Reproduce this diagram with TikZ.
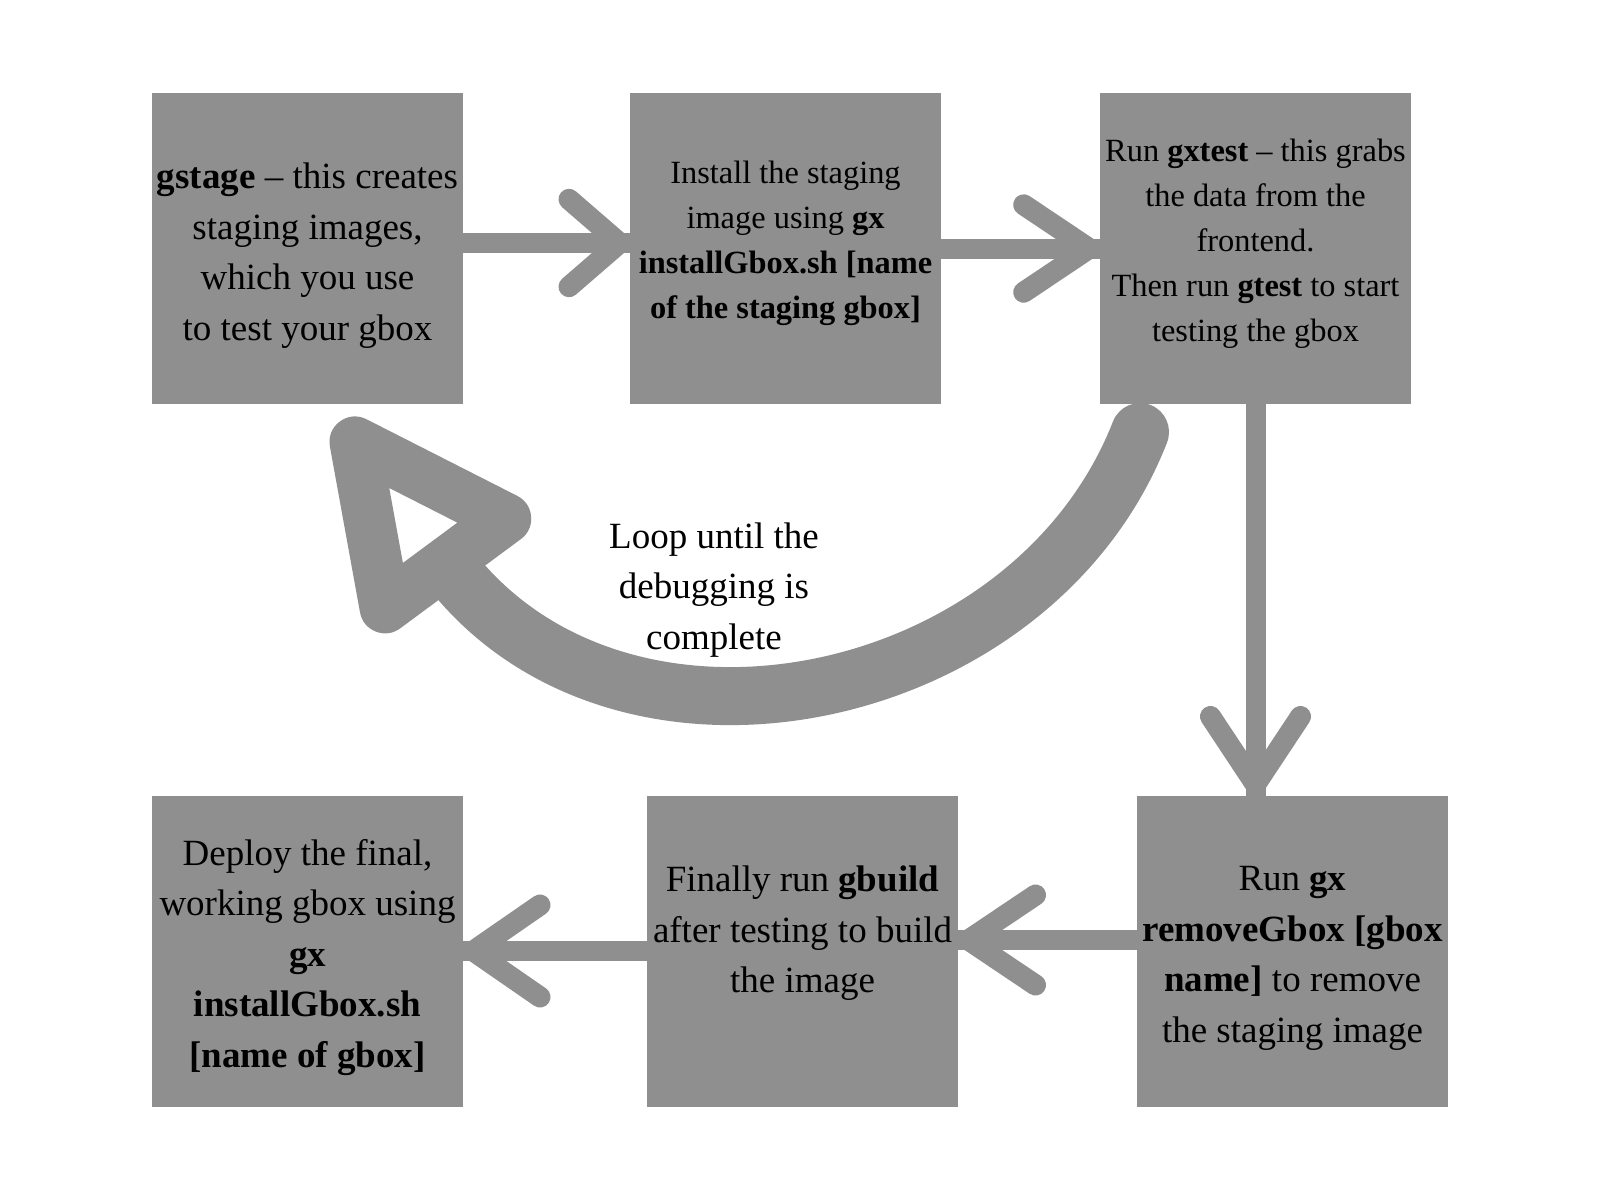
\documentclass[tikz,border=0pt]{standalone}
\usepackage{fontspec}
\setmainfont{Liberation Serif}
\usetikzlibrary{calc}
\definecolor{boxgray}{RGB}{143,143,143}
\begin{document}
\begin{tikzpicture}[x=1pt,y=-1pt,
  box/.style={fill=boxgray, draw=none, minimum width=311pt, minimum height=311pt, inner sep=0pt, outer sep=0pt},
  bigtext/.style={align=center, inner sep=0pt, font=\fontsize{37}{50.5}\selectfont, text=black},
  smalltext/.style={align=center, inner sep=0pt, font=\fontsize{32.4}{45}\selectfont, text=black},
  shaft/.style={draw=boxgray, line width=20pt},
  head/.style={draw=boxgray, line width=21pt, line cap=round, line join=round},
  loopline/.style={draw=boxgray, line width=58pt, line cap=round},
  loophead/.style={draw=boxgray, line width=51pt, line join=round}]
\path[use as bounding box, fill=white] (0,0) rectangle (1600,1200);

% boxes
\node[box] (b1) at (307.5,248.5) {};
\node[box] (b2) at (785.5,248.5) {};
\node[box] (b3) at (1255.5,248.5) {};
\node[box] (b4) at (307.5,951) {};
\node[box] (b5) at (802.5,951) {};
\node[box] (b6) at (1292.5,951) {};

% box texts
\node[bigtext] (l1) at ($(b1)+(0,7)$) {\textbf{gstage} – this creates\\staging images,\\which you use\\to test your gbox};
\node[smalltext] (l2) at ($(b2)+(0,-5)$) {Install the staging\\image using \textbf{gx}\\\textbf{installGbox.sh [name}\\\textbf{of the staging gbox]}};
\node[smalltext] (l3) at ($(b3)+(0,-4.5)$) {Run \textbf{gxtest} – this grabs\\the data from the\\frontend.\\Then run \textbf{gtest} to start\\testing the gbox};
\node[bigtext] (l4) at ($(b4)+(0,6.5)$) {Deploy the final,\\working gbox using\\\textbf{gx}\\\textbf{installGbox.sh}\\\textbf{[name of gbox]}};
\node[bigtext] (l5) at ($(b5)+(0,-17.4)$) {Finally run \textbf{gbuild}\\after testing to build\\the image};
\node[bigtext] (l6) at ($(b6)+(0,7.6)$) {Run \textbf{gx}\\\textbf{removeGbox [gbox}\\\textbf{name]} to remove\\the staging image};

% arrow b1 -> b2
\draw[shaft] ($(b1.east)+(0,-5.5)$) -- ($(b2.west)+(0,-5.5)$);
\coordinate (t1) at ($(b2.west)+(-10.5,-5.5)$);
\draw[head] ($(t1)+(-50.5,-43.7)$) -- (t1) -- ($(t1)+(-50.5,43.7)$);

% arrow b2 -> b3
\draw[shaft] (b2.east) -- (b3.west);
\coordinate (t2) at ($(b3.west)+(-11,0)$);
\draw[head] ($(t2)+(-65.3,-43.7)$) -- (t2) -- ($(t2)+(-65.3,43.7)$);

% arrow b3 -> b6
\draw[shaft] (b3.south) -- (b3.south |- b6.north);
\coordinate (t3) at ($(b3.south |- b6.north)+(0,-11)$);
\draw[head] ($(t3)+(-45,-68)$) -- (t3) -- ($(t3)+(45,-68)$);

% arrow b6 -> b5
\draw[shaft] ($(b6.west)+(0,-11)$) -- ($(b5.east)+(0,-11)$);
\coordinate (t5) at ($(b5.east)+(10.5,-11)$);
\draw[head] ($(t5)+(67,-45)$) -- (t5) -- ($(t5)+(67,45)$);

% arrow b5 -> b4
\draw[shaft] (b5.west) -- (b4.east);
\coordinate (t4) at ($(b4.east)+(10.5,0)$);
\draw[head] ($(t4)+(66.5,-46)$) -- (t4) -- ($(t4)+(66.5,46)$);

% loop arrow
\coordinate (loopstart) at (1140,432);
\coordinate (loopend) at (445,563);
\draw[loopline, shorten >=20pt] (loopstart) .. controls (1034,703) and (636,789) .. (loopend);
\draw[loophead] (355,442) -- (505.7,518.6) -- (385.1,607.8) -- cycle;
\node[bigtext] (loop) at (714,590) {Loop until the\\debugging is\\complete};
\end{tikzpicture}
\end{document}
